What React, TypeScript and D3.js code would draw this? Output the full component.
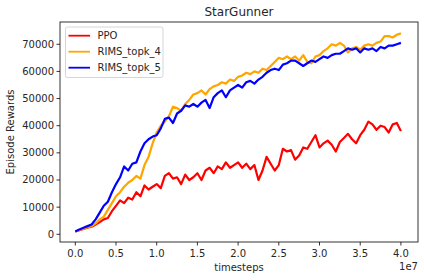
import React from "react";
import * as d3 from "d3";

const steps: number[] = d3.range(0, 81).map((i) => i * 0.05); // in units of 1e7

const ppo: number[] = [
  1.0, 1.5, 2.0, 2.4, 2.8, 3.6, 4.5, 5.5, 6.0, 8.5,
  10.5, 12.5, 11.5, 13.5, 12.8, 15.5, 14.0, 18.0, 16.5, 17.5,
  18.5, 17.0, 21.5, 22.5, 20.5, 21.0, 18.5, 22.0, 20.0, 21.0,
  22.5, 20.0, 23.5, 24.5, 22.5, 25.0, 24.0, 26.5, 24.5, 25.5,
  26.5, 24.5, 26.0, 24.0, 25.5, 20.0, 23.5, 28.5, 26.0, 23.5,
  25.5, 31.5, 30.5, 31.0, 27.5, 29.0, 32.0, 31.5, 34.0, 36.5,
  32.0, 33.5, 34.5, 33.0, 30.5, 34.0, 35.5, 37.0, 35.0, 33.5,
  36.5, 38.5, 41.5, 40.5, 38.5, 40.0, 39.5, 37.5, 40.5, 41.0,
  38.0,
];

const topk4: number[] = [
  1.0, 1.6, 2.1, 2.6, 3.0, 4.0, 5.5, 6.5, 9.0, 11.5,
  14.0, 15.5, 17.5, 19.0, 20.0, 21.5, 20.5, 25.5, 28.5, 33.5,
  37.5, 40.0, 41.5, 43.5, 47.0, 46.5, 45.5, 48.0, 49.5, 51.5,
  52.0, 53.0, 51.5, 53.5, 54.5, 55.0, 56.0, 55.5, 57.0, 56.5,
  58.0, 58.5, 59.5, 59.0, 60.0, 59.5, 61.0, 60.5, 62.0, 63.5,
  65.0, 64.5, 65.5, 64.5, 65.5, 64.0, 66.0, 63.5, 63.0, 65.5,
  66.0, 67.5, 68.5, 70.0, 69.5, 70.5, 69.5, 67.0, 68.5, 69.0,
  68.0, 69.5, 70.0, 69.5, 70.5, 71.0, 73.0, 73.0, 72.5, 73.5,
  74.0,
];

const topk5: number[] = [
  1.0, 1.8, 2.4, 3.0, 3.6, 5.5, 8.0, 10.5, 12.0, 15.5,
  18.5, 21.0, 25.0, 23.5, 26.0, 26.5, 30.5, 33.5, 35.0, 36.0,
  36.5, 39.0, 42.5, 43.0, 41.0, 44.5, 45.5, 47.5, 47.0, 48.0,
  47.0, 48.5, 49.5, 46.5, 50.5, 52.0, 53.0, 50.5, 53.0, 54.0,
  55.0, 54.0, 56.0, 56.5, 55.5, 57.0, 58.0, 59.5, 60.5, 61.0,
  60.5, 62.5, 63.0, 64.0, 64.0, 63.0, 62.0, 63.0, 64.0, 63.5,
  64.5, 65.5, 65.0, 66.0, 66.5, 66.5, 67.5, 68.5, 68.0, 68.5,
  67.0, 68.5, 68.0, 68.5, 67.5, 69.0, 68.5, 69.5, 69.5, 70.0,
  70.5,
];

const seriesNames = ["PPO", "RIMS_topk_4", "RIMS_topk_5"];
const seriesColors = ["#ff0000", "#ffa500", "#0000ff"];
const seriesData = [ppo, topk4, topk5];

const xTicks = [0, 0.5, 1.0, 1.5, 2.0, 2.5, 3.0, 3.5, 4.0];
const yTicks = [0, 10000, 20000, 30000, 40000, 50000, 60000, 70000];

const W = 424;
const H = 280;
const L = 60, R = 418, T = 22, B = 242;
const FONT = "DejaVu Sans, sans-serif";

export default function App() {
  const x = d3.scaleLinear().domain([-0.188, 4.21]).range([L, R]);
  const y = d3.scaleLinear().domain([-2840, 78200]).range([B, T]);
  const line = d3
    .line<[number, number]>()
    .x((d) => x(d[0]))
    .y((d) => y(d[1] * 1000));

  return (
    <svg
      width={W}
      height={H}
      style={{ position: "absolute", left: 0, top: 0, background: "#fff" }}
      fontFamily={FONT}
    >
      <rect x={0} y={0} width={W} height={H} fill="#fff" />
      <defs>
        <clipPath id="plotclip">
          <rect x={L} y={T} width={R - L} height={B - T} />
        </clipPath>
      </defs>
      <g clipPath="url(#plotclip)">
        {seriesData.map((s, i) => (
          <path
            key={seriesNames[i]}
            d={line(steps.map((t, j) => [t, s[j]] as [number, number])) || ""}
            fill="none"
            stroke={seriesColors[i]}
            strokeWidth={2.2}
            strokeLinejoin="round"
          />
        ))}
      </g>
      <rect x={L} y={T} width={R - L} height={B - T} fill="none" stroke="#000" strokeWidth={0.8} />
      {xTicks.map((t) => (
        <g key={"x" + t}>
          <line x1={x(t)} x2={x(t)} y1={B} y2={B + 3.5} stroke="#000" strokeWidth={0.8} />
          <text x={x(t)} y={B + 15} textAnchor="middle" fontSize={10} fill="#262626">
            {t.toFixed(1)}
          </text>
        </g>
      ))}
      {yTicks.map((t) => (
        <g key={"y" + t}>
          <line x1={L - 3.5} x2={L} y1={y(t)} y2={y(t)} stroke="#000" strokeWidth={0.8} />
          <text x={L - 6} y={y(t) + 3.5} textAnchor="end" fontSize={10} fill="#262626">
            {t}
          </text>
        </g>
      ))}
      <text x={R} y={B + 28} textAnchor="end" fontSize={10} fill="#262626">
        1e7
      </text>
      <text x={(L + R) / 2} y={B + 29} textAnchor="middle" fontSize={10} fill="#262626">
        timesteps
      </text>
      <text
        transform={`translate(14, ${(T + B) / 2}) rotate(-90)`}
        textAnchor="middle"
        fontSize={10}
        fill="#262626"
      >
        Episode Rewards
      </text>
      <text x={(L + R) / 2} y={T - 6} textAnchor="middle" fontSize={12} fill="#262626">
        StarGunner
      </text>
      <g>
        <rect x={65.5} y={27} width={97.5} height={50.5} rx={2} fill="#fff" fillOpacity={0.8} stroke="#ccc" strokeWidth={0.8} />
        {seriesNames.map((n, i) => (
          <g key={"lg" + n}>
            <line x1={68.5} x2={90} y1={35.7 + i * 16} y2={35.7 + i * 16} stroke={seriesColors[i]} strokeWidth={1.8} />
            <text x={97.5} y={35.7 + i * 16 + 3.5} fontSize={10} fill="#262626">
              {n}
            </text>
          </g>
        ))}
      </g>
    </svg>
  );
}
